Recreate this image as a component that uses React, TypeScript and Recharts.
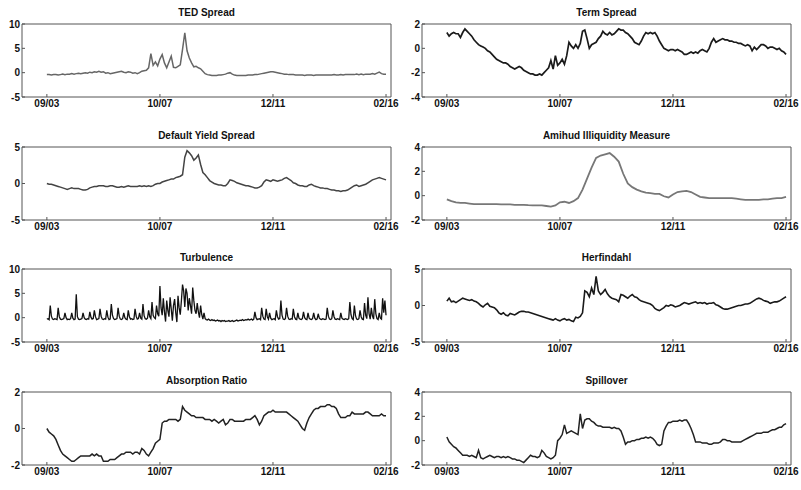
import { LineChart, Line, XAxis, YAxis } from 'recharts'

// x runs in months from Sep 2003 (0) to Feb 2016 (150)
const tickMonths = [0, 50, 100, 150]
const tickLabels = ['09/03', '10/07', '12/11', '02/16']

const tedSpread = [
  -0.4, -0.4, -0.5, -0.4, -0.4, -0.5, -0.4, -0.3, -0.4, -0.3,
  -0.3, -0.2, -0.3, -0.2, -0.1, -0.2, -0.1, 0.0, -0.1, 0.1,
  0.0, 0.2, 0.1, 0.3, 0.1, 0.2, -0.1, 0.0, -0.2, -0.1,
  0.0, 0.1, 0.2, 0.3, 0.1, 0.0, 0.2, 0.1, -0.1, 0.0,
  -0.2, 0.0, 0.3, 0.4, 0.5, 1.0, 3.9, 1.5, 2.2, 1.4,
  2.8, 3.7, 2.0, 1.0, 2.2, 3.4, 1.1, 1.0, 1.3, 1.6,
  4.8, 8.2, 4.5, 3.0, 2.0, 1.2, 1.3, 1.0, 0.8, 0.3,
  -0.2, -0.4, -0.5, -0.6, -0.6, -0.6, -0.5, -0.5, -0.4, -0.3,
  -0.1, 0.0, -0.3, -0.5, -0.6, -0.6, -0.6, -0.6, -0.6, -0.5,
  -0.5, -0.5, -0.4, -0.4, -0.3, -0.2, -0.1, 0.0, 0.1, 0.2,
  0.2, 0.1, 0.0, -0.1, -0.2, -0.3, -0.3, -0.4, -0.4, -0.4,
  -0.5, -0.5, -0.5, -0.5, -0.6, -0.5, -0.5, -0.5, -0.6, -0.5,
  -0.5, -0.5, -0.5, -0.5, -0.5, -0.5, -0.5, -0.4, -0.5, -0.5,
  -0.4, -0.5, -0.4, -0.4, -0.4, -0.4, -0.4, -0.3, -0.4, -0.3,
  -0.4, -0.3, -0.3, -0.3, -0.2, -0.3, -0.1, 0.1, -0.2, -0.3, -0.3,
]

const termSpread = [
  1.3, 1.0, 1.2, 1.3, 1.2, 1.2, 0.9, 1.3, 1.6, 1.4,
  1.2, 1.0, 0.7, 0.5, 0.3, 0.2, 0.1, 0.0, -0.2, -0.3,
  -0.5, -0.7, -0.9, -1.0, -1.1, -1.2, -1.2, -1.3, -1.5, -1.6,
  -1.7, -1.6, -1.5, -1.6, -1.8, -1.9, -2.0, -2.1, -2.1, -2.2,
  -2.2, -2.1, -2.2, -2.0, -1.8, -1.6, -1.0, -1.7, -0.6, -1.4,
  -1.2, -0.9, -1.3, -0.6, 0.5, 0.2, 0.0, 0.3, 0.0, 0.4,
  1.4, 1.5, 0.8, 0.0, 0.3, 0.4, 0.5, 0.8, 1.0, 1.4,
  1.2, 1.1, 1.3, 1.1, 1.2, 1.4, 1.6, 1.5, 1.5, 1.3,
  1.2, 1.0, 0.8, 0.5, 0.4, 0.3, 0.6, 1.0, 1.3, 1.2,
  1.3, 1.2, 1.3, 1.0, 0.6, 0.3, 0.0, -0.1, -0.2, -0.1,
  -0.1, -0.2, -0.1, -0.2, -0.3, -0.5, -0.5, -0.4, -0.3, -0.4,
  -0.3, -0.4, -0.2, -0.1, -0.2, -0.3, 0.0, 0.5, 0.8, 0.5,
  0.6, 0.7, 0.8, 0.7, 0.7, 0.6, 0.6, 0.5, 0.5, 0.4,
  0.4, 0.3, 0.2, 0.3, 0.2, -0.2, 0.1, -0.1, 0.1, 0.3,
  0.3, 0.2, 0.0, 0.1, 0.1, 0.0, -0.1, 0.0, -0.2, -0.3, -0.5,
]

const defaultYieldSpread = [
  0.0, -0.1, -0.1, -0.2, -0.3, -0.4, -0.5, -0.6, -0.7, -0.8,
  -0.7, -0.6, -0.7, -0.7, -0.7, -0.8, -0.9, -0.9, -0.8, -0.6,
  -0.5, -0.4, -0.4, -0.3, -0.3, -0.3, -0.4, -0.4, -0.3, -0.3,
  -0.4, -0.5, -0.5, -0.4, -0.5, -0.4, -0.3, -0.4, -0.4, -0.4,
  -0.4, -0.3, -0.4, -0.3, -0.4, -0.3, -0.4, -0.3, -0.1, 0.0,
  0.0, 0.2, 0.3, 0.4, 0.5, 0.6, 0.6, 0.8, 0.9, 1.0,
  1.2, 3.6, 4.5, 4.2, 3.8, 3.2, 3.5, 3.9, 2.6, 1.5,
  1.2, 0.8, 0.4, 0.2, 0.0, -0.1, -0.2, -0.2, -0.3, -0.3,
  0.0, 0.5, 0.4, 0.3, 0.1, 0.0, -0.1, -0.2, -0.3, -0.3,
  -0.4, -0.5, -0.6, -0.6, -0.5, -0.3, 0.2, 0.5, 0.4, 0.3,
  0.5, 0.4, 0.3, 0.4, 0.5, 0.7, 0.8, 0.6, 0.4, 0.1,
  0.0, -0.2, -0.3, -0.3, -0.4, -0.4, -0.2, -0.1, -0.3, -0.4,
  -0.5, -0.6, -0.6, -0.7, -0.7, -0.8, -0.9, -0.9, -1.0, -1.0,
  -1.1, -1.0, -1.0, -0.9, -0.7, -0.5, -0.3, -0.2, -0.4, -0.3,
  -0.2, -0.1, 0.1, 0.3, 0.5, 0.6, 0.7, 0.8, 0.7, 0.6, 0.5,
]

// every two months
const amihud = [
  -0.3, -0.45, -0.55, -0.6, -0.6, -0.65, -0.7, -0.7, -0.7, -0.7,
  -0.7, -0.7, -0.72, -0.72, -0.72, -0.75, -0.75, -0.75, -0.78, -0.8,
  -0.8, -0.8, -0.85, -0.9, -0.8, -0.55, -0.5, -0.6, -0.45, -0.2,
  0.5, 1.4, 2.3, 3.1, 3.3, 3.4, 3.5, 3.2, 2.8, 1.8,
  1.0, 0.7, 0.5, 0.35, 0.25, 0.2, 0.15, 0.15, -0.05, -0.15,
  0.1, 0.3, 0.35, 0.4, 0.3, 0.1, -0.1, -0.15, -0.2, -0.2,
  -0.2, -0.2, -0.2, -0.2, -0.25, -0.3, -0.35, -0.35, -0.35, -0.35,
  -0.3, -0.3, -0.25, -0.2, -0.2, -0.1,
]

// every half month
const turbulence = [
  -0.3, -0.2, -0.4, 2.5, 0.3, -0.3, -0.4, -0.2, -0.3, -0.4,
  2.0, 0.2, -0.3, -0.4, -0.3, -0.2, 1.0, 0.0, -0.4, -0.3,
  -0.4, -0.2, 1.0, -0.1, -0.4, -0.3, 4.8, 0.2, -0.3, -0.4,
  -0.3, -0.2, 1.0, 0.0, -0.3, -0.4, -0.2, -0.3, 1.2, 0.1,
  -0.3, -0.2, 1.5, 0.2, -0.4, -0.3, -0.2, 1.8, 0.3, -0.3,
  -0.4, -0.2, -0.3, 1.5, 0.1, -0.4, -0.3, 2.8, 0.5, -0.2,
  -0.4, -0.3, -0.2, 2.0, 0.3, -0.3, -0.4, -0.2, 1.0, 0.0,
  -0.3, -0.4, 1.5, 0.2, -0.3, -0.2, -0.4, -0.3, 1.8, 0.3,
  -0.3, -0.2, 1.0, -0.1, -0.3, 2.8, 0.4, -0.2, -0.3, -0.1,
  1.5, 0.2, -0.2, 3.2, 0.5, 0.0, -0.2, 2.5, 0.8, 0.3,
  6.5, 2.0, 0.5, 4.0, 1.2, -0.8, 3.5, 1.5, 0.2, 4.2,
  1.8, -0.6, 2.5, 3.8, 1.0, -0.9, 4.5, 2.0, 0.6, 3.5,
  6.8, 5.5, 2.2, 6.0, 5.0, 1.5, 4.0, 2.5, 0.8, 6.2,
  3.5, 1.5, 0.8, 3.0, 1.2, 0.0, 2.5, 0.6, -0.3, 1.0,
  -0.2, -0.4, -0.5, -0.3, -0.5, -0.6, -0.4, -0.6, -0.5, -0.7,
  -0.6, -0.5, -0.7, -0.6, -0.8, -0.6, -0.7, -0.6, -0.8, -0.7,
  -0.7, -0.6, -0.8, -0.7, -0.6, -0.8, -0.7, -0.6, -0.5, -0.7,
  -0.6, -0.5, -0.6, -0.4, -0.6, -0.5, -0.4, -0.5, -0.3, -0.5,
  -0.4, -0.3, -0.5, -0.3, 1.2, 0.0, -0.4, -0.3, -0.2, -0.4,
  2.0, 0.3, -0.3, -0.4, 1.8, 0.2, -0.3, 1.0, -0.1, -0.4,
  -0.3, -0.2, -0.4, 1.5, 0.2, -0.3, -0.2, 3.5, 0.5, -0.3,
  -0.4, -0.2, 2.0, 0.3, -0.3, -0.4, -0.2, -0.3, 1.8, 0.2,
  -0.3, -0.4, 1.0, -0.1, -0.3, -0.4, -0.2, 1.2, 0.0, -0.3,
  -0.4, 1.0, -0.1, -0.3, -0.4, -0.2, 1.0, -0.1, -0.4, -0.3,
  0.8, -0.1, -0.3, -0.4, -0.2, -0.3, -0.4, -0.3, 2.0, 0.3,
  -0.3, -0.4, -0.2, 1.5, 0.2, -0.3, -0.4, -0.2, -0.3, -0.4,
  1.0, -0.1, -0.3, -0.4, -0.2, -0.3, -0.4, -0.2, 3.2, 0.6,
  -0.2, -0.4, 2.5, 0.4, -0.3, -0.4, -0.2, 1.5, 0.2, -0.3,
  -0.4, 3.0, 0.5, -0.2, 4.2, 0.8, -0.3, 2.0, 0.3, -0.3,
  3.8, 0.8, -0.2, -0.4, 1.0, -0.1, -0.3, 4.0, 1.0, 3.5,
  0.5,
]

const herfindahl = [
  0.6, 1.0, 0.5, 0.6, 0.4, 0.6, 0.8, 1.0, 0.9, 0.8,
  0.7, 0.8, 0.6, 0.5, 0.3, 0.0, -0.2, 0.1, 0.3, -0.1,
  -0.2, -0.3, -0.6, -1.0, -1.2, -1.0, -1.3, -1.4, -1.1, -1.2,
  -1.3, -1.1, -0.9, -0.8, -0.8, -0.9, -0.9, -1.0, -1.1, -1.2,
  -1.3, -1.4, -1.5, -1.6, -1.7, -1.8, -1.9, -2.0, -1.8, -2.0,
  -2.1, -1.9, -1.8, -2.0, -1.9, -2.1, -2.2, -1.6, -1.7, -1.5,
  -1.0, 2.0, 1.8, 1.2, 2.4, 1.5, 4.0, 2.0, 1.5, 1.8,
  2.2, 1.6, 1.2, 1.0, 0.9, 0.8, 0.5, 1.5, 1.4, 1.2,
  1.0, 1.3, 1.5, 1.2, 1.1, 0.8, 0.6, 0.5, 0.4, 0.3,
  0.2, 0.0, -0.4, -0.6, -0.7, -0.5, -0.3, 0.0, -0.1, 0.1,
  0.0, -0.2, -0.1, 0.0, 0.2, 0.4, 0.3, 0.2, 0.3, 0.4,
  0.5, 0.3, 0.4, 0.3, 0.4, 0.2, 0.3, 0.3, 0.4, 0.1,
  0.0, -0.2, -0.4, -0.5, -0.5, -0.4, -0.3, -0.2, -0.1, 0.0,
  0.0, 0.1, 0.2, 0.2, 0.3, 0.5, 0.7, 0.9, 1.0, 0.9,
  0.7, 0.6, 0.5, 0.3, 0.4, 0.5, 0.5, 0.6, 0.8, 1.0, 1.2,
]

const absorptionRatio = [
  0.0, -0.2, -0.3, -0.4, -0.6, -0.9, -1.2, -1.4, -1.5, -1.6,
  -1.7, -1.8, -1.8, -1.7, -1.6, -1.5, -1.5, -1.5, -1.5, -1.5,
  -1.4, -1.5, -1.4, -1.5, -1.5, -1.8, -1.8, -1.8, -1.7, -1.7,
  -1.7, -1.6, -1.5, -1.4, -1.4, -1.3, -1.3, -1.3, -1.4, -1.3,
  -1.3, -1.4, -1.1, -1.2, -1.4, -1.5, -1.3, -1.1, -0.8, -0.7,
  -0.6, 0.3, 0.4, 0.4, 0.5, 0.5, 0.5, 0.5, 0.4, 0.5,
  1.2, 1.0, 0.9, 0.8, 0.7, 0.7, 0.6, 0.6, 0.6, 0.6,
  0.5, 0.5, 0.5, 0.4, 0.5, 0.4, 0.3, 0.4, 0.5, 0.2,
  0.3, 0.5, 0.5, 0.4, 0.4, 0.4, 0.4, 0.4, 0.5, 0.5,
  0.5, 0.6, 0.7, 0.5, 0.2, 0.4, 0.7, 0.8, 0.9, 0.9,
  1.0, 0.9, 0.9, 0.9, 0.9, 0.9, 0.9, 0.8, 0.7, 0.6,
  0.5, 0.4, 0.2, 0.0, -0.1, 0.3, 0.6, 0.8, 1.0, 1.1,
  1.1, 1.2, 1.2, 1.2, 1.3, 1.3, 1.2, 1.2, 1.1, 0.8,
  0.6, 0.6, 0.6, 0.7, 0.7, 0.9, 0.8, 0.8, 0.8, 0.8,
  0.8, 0.9, 0.9, 0.8, 0.7, 0.7, 0.7, 0.7, 0.8, 0.7, 0.7,
]

const spillover = [
  0.3, -0.1, -0.3, -0.5, -0.6, -0.8, -1.0, -1.2, -1.2, -1.2,
  -1.3, -1.2, -1.3, -1.4, -0.8, -1.4, -1.5, -1.4, -1.3, -1.2,
  -1.3, -1.4, -1.3, -1.3, -1.4, -1.3, -1.4, -1.3, -1.4, -1.5,
  -1.5, -1.6, -1.6, -1.7, -1.8, -1.6, -1.4, -1.2, -1.3, -1.3,
  -1.4, -1.3, -0.8, -1.0, -1.3, -1.4, -1.5, -1.4, -1.2, 0.0,
  0.2, 0.5, 1.3, 0.6, 0.7, 0.8, 0.7, 0.6, 0.5, 2.2,
  1.0, 1.7, 1.8, 1.8, 1.6, 1.5, 1.3, 1.2, 1.2, 1.1,
  1.1, 1.1, 1.1, 1.0, 1.1, 1.0, 1.0, 0.8, 0.3, -0.3,
  -0.1, -0.1, 0.0, 0.0, 0.1, 0.1, 0.2, 0.2, 0.3, 0.2,
  0.3, 0.2, 0.0, -0.3, -0.4, -0.3, 0.8, 1.2, 1.5, 1.5,
  1.6, 1.6, 1.6, 1.7, 1.6, 1.7, 1.7, 1.4, 1.0, 0.5,
  -0.1, -0.1, -0.1, -0.2, -0.2, -0.2, -0.3, -0.3, -0.2, -0.2,
  -0.2, -0.1, 0.1, 0.1, 0.0, 0.0, -0.1, -0.1, -0.1, -0.1,
  -0.1, 0.0, 0.1, 0.2, 0.3, 0.4, 0.5, 0.6, 0.6, 0.6,
  0.7, 0.7, 0.7, 0.8, 0.9, 0.9, 1.0, 1.1, 1.1, 1.3, 1.4,
]

const font = 'Liberation Sans, Arial, Helvetica, sans-serif'
const axisColor = '#555'
const labelStyle = { fill: '#111', fontSize: 10, fontFamily: font, fontWeight: 'bold' as const }

interface PanelProps {
  title: string
  values: number[]
  yTicks: number[]
  left: number
  top: number
  stroke?: string
  width?: number
}

function Panel({ title, values, yTicks, left, top, stroke = '#222', width = 1.5 }: PanelProps) {
  const data = values.map((v, i) => ({ x: (i * 150) / (values.length - 1), v }))
  const yDomain = [yTicks[0], yTicks[yTicks.length - 1]]
  const xDomain = [-11, 152.2]
  const fmt = (m: number) => tickLabels[tickMonths.indexOf(m)] ?? ''
  return (
    <div style={{ position: 'absolute', left, top, width: 400, height: 122 }}>
      <div
        style={{
          position: 'absolute',
          left: 22,
          width: 369,
          top: 7,
          textAlign: 'center',
          fontSize: 10,
          lineHeight: '12px',
          fontFamily: font,
          fontWeight: 'bold',
          color: '#111',
        }}
      >
        {title}
      </div>
      <LineChart width={400} height={122} data={data} margin={{ top: 20, right: 5, bottom: 5, left: 2 }}>
        <XAxis
          dataKey="x"
          type="number"
          domain={xDomain}
          ticks={tickMonths}
          tickFormatter={fmt}
          interval={0}
          allowDataOverflow
          tickSize={-3}
          tickMargin={6}
          height={20}
          stroke={axisColor}
          tick={labelStyle}
        />
        <XAxis
          xAxisId="top"
          orientation="top"
          type="number"
          domain={xDomain}
          ticks={tickMonths}
          allowDataOverflow
          tick={false}
          tickSize={-3}
          height={4}
          stroke={axisColor}
        />
        <YAxis
          type="number"
          domain={yDomain}
          ticks={yTicks}
          interval={0}
          allowDataOverflow
          width={20}
          tickSize={-3}
          tickMargin={5}
          stroke={axisColor}
          tick={labelStyle}
        />
        <YAxis
          yAxisId="r"
          orientation="right"
          type="number"
          domain={yDomain}
          ticks={yTicks}
          allowDataOverflow
          tick={false}
          tickSize={-3}
          width={4}
          stroke={axisColor}
        />
        <Line
          dataKey="v"
          type="linear"
          dot={false}
          stroke={stroke}
          strokeWidth={width}
          isAnimationActive={false}
        />
      </LineChart>
    </div>
  )
}

export default function App() {
  return (
    <div style={{ position: 'absolute', left: 0, top: 0, width: 801, height: 490, background: '#fff' }}>
      <Panel title="TED Spread" values={tedSpread} yTicks={[-5, 0, 5, 10]} left={0} top={0} stroke="#666" />
      <Panel title="Term Spread" values={termSpread} yTicks={[-4, -2, 0, 2]} left={400} top={0} stroke="#1a1a1a" width={1.7} />
      <Panel title="Default Yield Spread" values={defaultYieldSpread} yTicks={[-5, 0, 5]} left={0} top={123} stroke="#444" />
      <Panel title="Amihud Illiquidity Measure" values={amihud} yTicks={[-2, 0, 2, 4]} left={400} top={123} stroke="#777" width={1.8} />
      <Panel title="Turbulence" values={turbulence} yTicks={[-5, 0, 5, 10]} left={0} top={245} stroke="#111" width={1.3} />
      <Panel title="Herfindahl" values={herfindahl} yTicks={[-5, 0, 5]} left={400} top={245} stroke="#1a1a1a" width={1.6} />
      <Panel title="Absorption Ratio" values={absorptionRatio} yTicks={[-2, 0, 2]} left={0} top={368} stroke="#222" />
      <Panel title="Spillover" values={spillover} yTicks={[-2, 0, 2, 4]} left={400} top={368} stroke="#222" />
    </div>
  )
}
